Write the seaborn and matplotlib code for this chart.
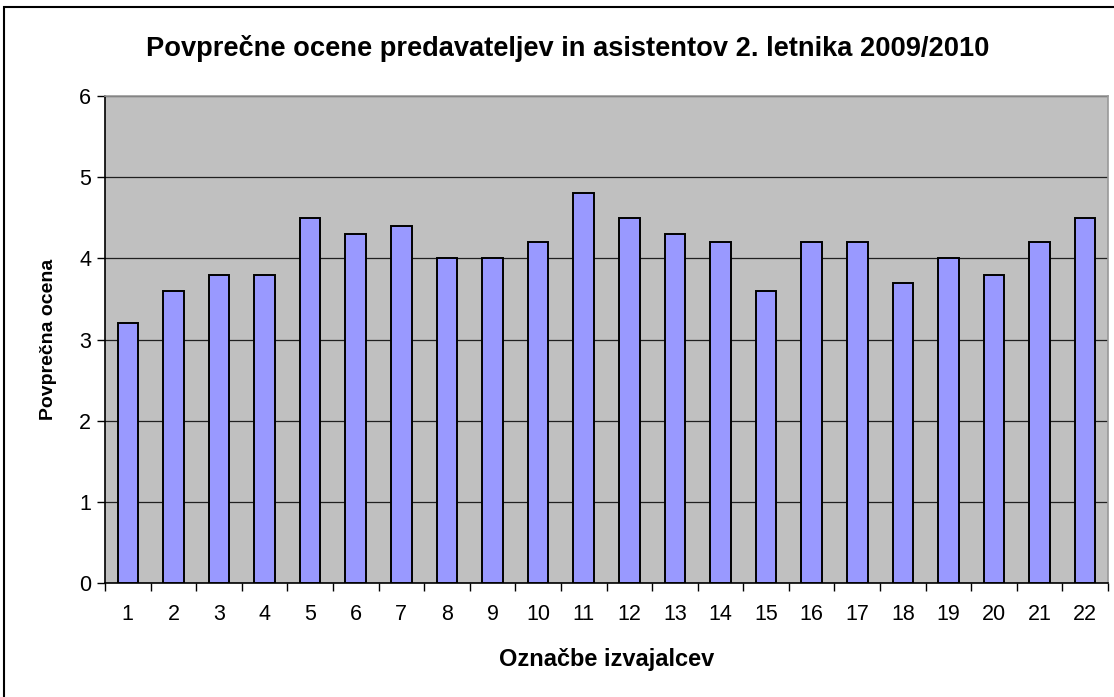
import matplotlib
matplotlib.use('Agg')
import matplotlib.pyplot as plt
import seaborn as sns
import pandas as pd
from matplotlib.patches import Rectangle

# podatki z grafa
izvajalci = [str(i) for i in range(1, 23)]
ocene = [3.2, 3.6, 3.8, 3.8, 4.5, 4.3, 4.4, 4.0, 4.0, 4.2, 4.8,
         4.5, 4.3, 4.2, 3.6, 4.2, 4.2, 3.7, 4.0, 3.8, 4.2, 4.5]
y_ticks = [0, 1, 2, 3, 4, 5, 6]

df = pd.DataFrame({'izvajalec': izvajalci, 'ocena': ocene})

sns.set_style("white")
plt.rcParams['font.family'] = ['Liberation Sans', 'DejaVu Sans']
plt.rcParams['text.color'] = 'black'
plt.rcParams['xtick.color'] = 'black'
plt.rcParams['ytick.color'] = 'black'
plt.rcParams['axes.labelcolor'] = 'black'

fig = plt.figure(figsize=(11.14, 6.97), dpi=100)
ax = fig.add_axes([105/1114, 1 - 583/697, 1003/1114, 487/697])
ax.set_facecolor('#c0c0c0')

sns.barplot(data=df, x='izvajalec', y='ocena', color='#9999ff', saturation=1,
            width=0.45, edgecolor='black', linewidth=1.4, ax=ax, zorder=3)

ax.set_ylim(0, 6)
ax.set_xlim(-0.5, len(izvajalci) - 0.5)
ax.set_yticks(y_ticks)
ax.yaxis.grid(True, color='#202020', linewidth=0.9, zorder=1)
ax.set_axisbelow(True)

# kljukice med stolpci
ax.set_xticks([i + 0.5 for i in range(-1, len(izvajalci))], minor=True)
ax.tick_params(axis='x', which='minor', length=6, width=1, direction='out')
ax.tick_params(axis='x', which='major', length=0, labelsize=15.5, pad=15)
ax.tick_params(axis='y', length=6, width=1, direction='out', labelsize=15.5, pad=4)
ax.xaxis.set_ticks_position('bottom')
ax.yaxis.set_ticks_position('left')

for s in ['left', 'bottom']:
    ax.spines[s].set_color('black')
    ax.spines[s].set_linewidth(1.2)
for s in ['top', 'right']:
    ax.spines[s].set_color('#999999')
    ax.spines[s].set_linewidth(1.2)

ax.set_xlabel('Označbe izvajalcev', fontsize=17, fontweight='bold', labelpad=17)
ax.set_ylabel('Povprečna ocena', fontsize=14, fontweight='bold', labelpad=16)
fig.text(568/1114, 1 - 48/697, 'Povprečne ocene predavateljev in asistentov 2. letnika 2009/2010',
         ha='center', va='center', fontsize=19.6, fontweight='bold')

# okvir okoli celotnega grafa (desni in spodnji rob sta odrezana)
fig.patches.append(Rectangle((4/1114, -0.05), 1.2, 1 - 7/697 + 0.05,
                             transform=fig.transFigure, fill=False,
                             edgecolor='black', linewidth=1.5))

fig.savefig('out.png', dpi=100)
